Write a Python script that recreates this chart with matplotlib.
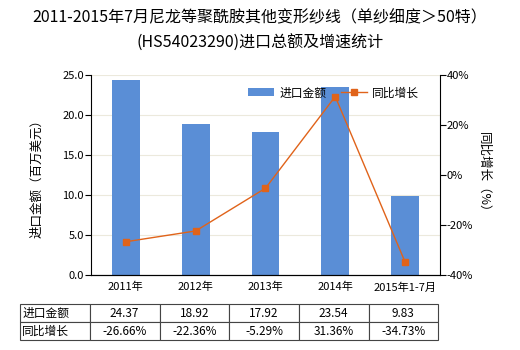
import matplotlib.pyplot as plt
import numpy as np

plt.rcParams['font.family'] = ['Noto Sans CJK SC', 'DejaVu Sans']

years = ['2011年', '2012年', '2013年', '2014年', '2015年1-7月']
amount = [24.37, 18.92, 17.92, 23.54, 9.83]
growth = [-26.66, -22.36, -5.29, 31.36, -34.73]
amount_txt = ['24.37', '18.92', '17.92', '23.54', '9.83']
growth_txt = ['-26.66%', '-22.36%', '-5.29%', '31.36%', '-34.73%']

bar_color = '#5a8ed6'
line_color = '#e0631a'

fig = plt.figure(figsize=(5.2, 3.5), dpi=100)
ax = fig.add_axes([0.175, 0.214, 0.671, 0.572])
x = np.arange(len(years))

ax.bar(x, amount, width=0.4, color=bar_color, zorder=2, label='进口金额')
ax.set_xlim(-0.5, 4.5)
ax.set_ylim(0, 25)
ax.set_yticks(np.arange(0, 26, 5))
ax.set_yticklabels(['%.1f' % v for v in np.arange(0, 26, 5)], fontsize=8)
ax.set_xticks(x)
ax.set_xticklabels(years, fontsize=8)
ax.tick_params(axis='x', length=0, pad=5)
ax.tick_params(axis='y', length=4, width=0.8, pad=1)
ax.yaxis.grid(True, color='#ece9dc', lw=0.8, zorder=0)
ax.spines['top'].set_visible(False)
ax.spines['right'].set_visible(False)
ax.set_ylabel('进口金额（百万美元）', fontsize=9, labelpad=14)

ax2 = ax.twinx()
ax2.plot(x, growth, color=line_color, lw=1, marker='s', ms=4, zorder=3, label='同比增长')
ax2.set_ylim(-40, 40)
ax2.set_yticks(np.arange(-40, 41, 20))
ax2.set_yticklabels(['%d%%' % v for v in np.arange(-40, 41, 20)], fontsize=8)
ax2.tick_params(axis='y', length=4, width=0.8, pad=1)
ax2.spines['top'].set_visible(False)
ax2.spines['left'].set_visible(False)
ax2.set_ylabel('同比增长（%）', fontsize=9, rotation=270, labelpad=12)

h1, l1 = ax.get_legend_handles_labels()
h2, l2 = ax2.get_legend_handles_labels()
ax2.legend(h1 + h2, l1 + l2, loc='center', bbox_to_anchor=(0.695, 0.91), ncol=2,
           frameon=False, fontsize=8.5, handlelength=2.2, handletextpad=0.5,
           columnspacing=1.2, borderaxespad=0)

fig.text(0.5, 0.95, '2011-2015年7月尼龙等聚酰胺其他变形纱线（单纱细度＞50特）', ha='center',
         va='center', fontsize=11.5)
fig.text(0.5, 0.877, '(HS54023290)进口总额及增速统计', ha='center', va='center', fontsize=11.5)

cells = [['进口金额'] + amount_txt, ['同比增长'] + growth_txt]
tbl = ax.table(cellText=cells, cellLoc='center', bbox=[-0.203, -0.325, 1.198, 0.18],
               colWidths=[70] + [70] * 5)
tbl.auto_set_font_size(False)
tbl.set_fontsize(8.5)
for (r, c), cell in tbl.get_celld().items():
    cell.set_edgecolor('#444444')
    cell.set_linewidth(0.8)
    if c == 0:
        cell.set_text_props(ha='left')
        cell.PAD = 0.03

fig.savefig('out.png', dpi=100)
